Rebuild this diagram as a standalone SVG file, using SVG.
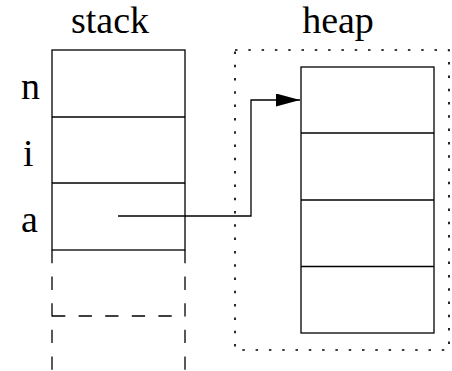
<svg xmlns="http://www.w3.org/2000/svg" width="452" height="371" viewBox="0 0 452 371">
<style>
.box{fill:none;stroke:#000;stroke-width:1.3}
.dash{fill:none;stroke:#000;stroke-width:1.3;stroke-dasharray:13.3 13.3}
.dot{fill:none;stroke:#000;stroke-width:1.7;stroke-dasharray:2.5 10.8}
.lbl{font-family:"Liberation Serif","Times New Roman",serif;font-size:38px;fill:#000}
.wire{fill:none;stroke:#000;stroke-width:1.3}
</style>
<defs>
<marker id="arr" markerUnits="userSpaceOnUse" markerWidth="25" markerHeight="13" refX="24" refY="6.5" orient="auto">
<path d="M0,0 L24,6.5 L0,13 Z" fill="#000"/>
</marker>
</defs>
<rect width="452" height="371" fill="#fff"/>
<g id="stack">
<text class="lbl" x="110" y="33" text-anchor="middle">stack</text>
<rect class="box" x="52" y="50" width="133" height="200"/>
<line class="box" x1="52" y1="117" x2="185" y2="117"/>
<line class="box" x1="52" y1="183" x2="185" y2="183"/>
<path class="dash" d="M52,250 V371 M185,250 V371"/>
<path class="dash" d="M52,316 H185"/>
</g>
<g id="var-n"><text class="lbl" x="21" y="99">n</text></g>
<g id="var-i"><text class="lbl" x="23" y="166">i</text></g>
<g id="var-a"><text class="lbl" x="21" y="232">a</text></g>
<g id="heap">
<text class="lbl" x="338" y="33" text-anchor="middle">heap</text>
<rect class="dot" x="235" y="50" width="214" height="300"/>
<rect class="box" x="301" y="67" width="133" height="266"/>
<line class="box" x1="301" y1="133" x2="434" y2="133"/>
<line class="box" x1="301" y1="200" x2="434" y2="200"/>
<line class="box" x1="301" y1="266.5" x2="434" y2="266.5"/>
</g>
<g id="connectors">
<path class="wire" d="M118,216 H251 V100 H300" marker-end="url(#arr)"/>
</g>
</svg>
